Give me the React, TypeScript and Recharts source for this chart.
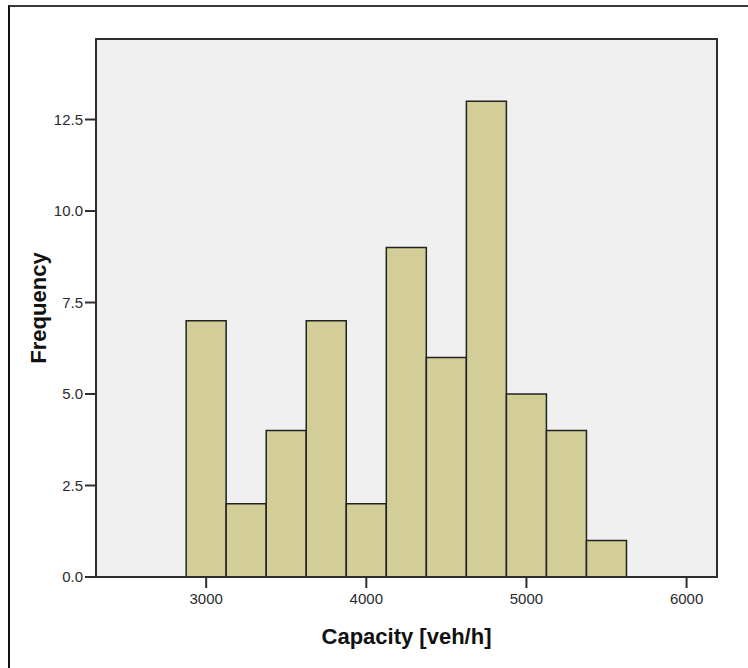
import { Bar, BarChart, CartesianGrid, ReferenceArea, XAxis, YAxis } from "recharts";

// histogram bins (center of each 250 veh/h bin) and counts
const binCenters = [3000, 3250, 3500, 3750, 4000, 4250, 4500, 4750, 5000, 5250, 5500];
const frequencies = [7, 2, 4, 7, 2, 9, 6, 13, 5, 4, 1];
const xTicks = [3000, 4000, 5000, 6000];
const yTicks = [0, 2.5, 5, 7.5, 10, 12.5];
const xDomain = [2312, 6190];
const yDomain = [0, 14.7];

const data = binCenters.map((c, i) => ({ capacity: c, frequency: frequencies[i] }));

const FONT = '"Liberation Sans", Arial, sans-serif';
const AXIS = "#2e2e2e";
const tickStyle = { fontSize: 15, fill: "#2a2a2a", fontFamily: FONT };

const YTitle = ({ viewBox }: any) => {
  const x = viewBox.x + 46;
  const y = viewBox.y + viewBox.height / 2;
  return (
    <text
      x={x}
      y={y}
      transform={`rotate(-90 ${x} ${y})`}
      textAnchor="middle"
      fontFamily={FONT}
      fontSize={22}
      fontWeight="bold"
      fill="#111"
    >
      Frequency
    </text>
  );
};

export default function App() {
  return (
    <div
      style={{
        position: "absolute",
        left: 0,
        top: 0,
        width: 748,
        height: 668,
        overflow: "hidden",
        background: "#fff",
      }}
    >
      <div
        style={{
          position: "absolute",
          left: 8,
          top: 5,
          width: 800,
          height: 800,
          borderTop: "2px solid #3a3a3a",
          borderLeft: "2px solid #111",
        }}
      />
      <BarChart
        width={748}
        height={668}
        data={data}
        margin={{ top: 39, right: 31, bottom: 0, left: 0 }}
        barCategoryGap={0}
        barGap={0}
      >
        <CartesianGrid fill="#f0f0f0" horizontal={false} vertical={false} />
        <XAxis
          type="number"
          dataKey="capacity"
          domain={xDomain}
          ticks={xTicks}
          allowDataOverflow
          height={91}
          tickSize={11}
          tickMargin={5}
          tick={tickStyle}
          axisLine={{ stroke: AXIS, strokeWidth: 2 }}
          tickLine={{ stroke: AXIS, strokeWidth: 2 }}
          label={{
            value: "Capacity [veh/h]",
            position: "insideTop",
            offset: 51,
            style: { fontFamily: FONT, fontSize: 22, fontWeight: "bold", fill: "#111" },
          }}
        />
        <YAxis
          domain={yDomain}
          ticks={yTicks}
          allowDataOverflow
          width={96}
          tickSize={11}
          tickMargin={2}
          tick={tickStyle}
          tickFormatter={(v: number) => v.toFixed(1)}
          axisLine={{ stroke: AXIS, strokeWidth: 2 }}
          tickLine={{ stroke: AXIS, strokeWidth: 2 }}
          label={<YTitle />}
        />
        <Bar
          dataKey="frequency"
          fill="#d3ce98"
          stroke="#222"
          strokeWidth={1.5}
          isAnimationActive={false}
        />
        {/* plot frame */}
        <ReferenceArea
          x1={xDomain[0]}
          x2={xDomain[1]}
          y1={yDomain[0]}
          y2={yDomain[1]}
          fill="none"
          fillOpacity={0}
          stroke={AXIS}
          strokeWidth={2}
          ifOverflow="visible"
        />
      </BarChart>
    </div>
  );
}
